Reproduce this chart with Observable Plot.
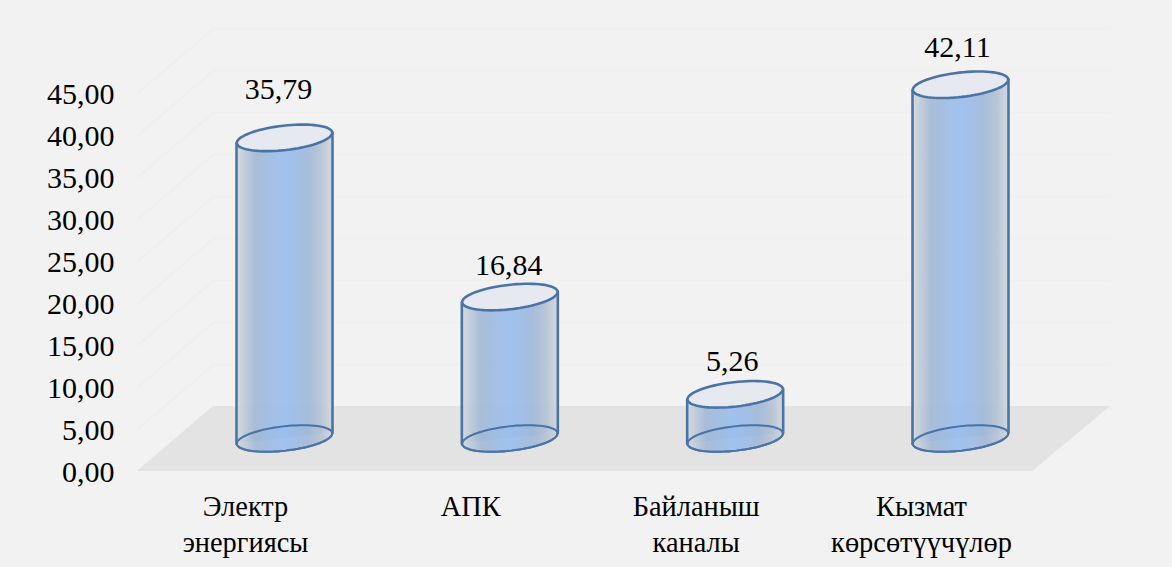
<!DOCTYPE html>
<html>
<head>
<meta charset="utf-8">
<script src="https://cdn.jsdelivr.net/npm/d3@7"></script>
<script src="https://cdn.jsdelivr.net/npm/@observablehq/plot@0.6"></script>
<style>
html,body{margin:0;padding:0;background:#f2f2f2;}
svg{display:block;}
</style>
</head>
<body>
<div id="chart"></div>
<script>
const categories = ["Электр\nэнергиясы", "АПК", "Байланыш\nканалы", "Кызмат\nкөрсөтүүчүлөр"];
const values = [35.79, 16.84, 5.26, 42.11];
const valueLabels = ["35,79", "16,84", "5,26", "42,11"];
const yTicks = [0, 5, 10, 15, 20, 25, 30, 35, 40, 45];

const indices = categories.map((_, i) => i);
const rows = indices.map(i => ({i, v: values[i], label: valueLabels[i]}));

// 3D look: everything below is expressed in data units, so it goes through the scales
const depth = 7.74, half = 0.213, tilt = 0.65, lift = -33;
const floor = [
  {y: 0, x1: -0.652, x2: 3.32},
  {y: depth, x1: -0.315, x2: 3.666}
];
const wall = yTicks.map(k => ({k}));
const sideFill = rows.flatMap(d => [
  {i: d.i, x: d.i - half, y1: -tilt, y2: d.v - tilt},
  {i: d.i, x: d.i + half, y1: tilt, y2: d.v + tilt}
]);
const sideLines = rows.flatMap(d => [-1, 1].flatMap(s => [
  {z: `${d.i}${s}`, x: d.i + s * half, y: s * tilt},
  {z: `${d.i}${s}`, x: d.i + s * half, y: d.v + s * tilt}
]));

const ellipse = {
  draw(ctx) {
    const a = 48, b = 12.2, t = -6.5 * Math.PI / 180;
    for (let k = 0; k <= 72; ++k) {
      const u = k / 72 * 2 * Math.PI;
      const ex = a * Math.cos(u), ey = b * Math.sin(u);
      const px = ex * Math.cos(t) - ey * Math.sin(t);
      const py = ex * Math.sin(t) + ey * Math.cos(t);
      k ? ctx.lineTo(px, py) : ctx.moveTo(px, py);
    }
    ctx.closePath();
  }
};

const defs = () => {
  const d = d3.create("svg:defs");
  const g = d.append("linearGradient").attr("id", "cyl").attr("x1", 0).attr("x2", 1).attr("y1", 0).attr("y2", 0);
  [[0, "#d3d9e1"], [0.08, "#c2ccd9"], [0.2, "#a2b9d7"], [0.3, "#a0bbde"], [0.47, "#9bbeed"], [0.62, "#9cbce6"], [0.75, "#a0b9d9"], [0.88, "#b4c2d4"], [1, "#d0d6de"]]
    .forEach(([o, c]) => g.append("stop").attr("offset", o).attr("stop-color", c));
  return d.node();
};

const font = "Liberation Serif";
const stroke = "#4b74a6";
const labelOffsets = [[-6, -48], [-1, -32], [-3, -33], [-3, -37]];

const chart = Plot.plot({
  width: 1172,
  height: 567,
  marginLeft: 284,
  marginRight: 212,
  marginTop: 93,
  marginBottom: 96,
  style: {background: "#f2f2f2", fontFamily: font, color: "#000", overflow: "visible"},
  x: {domain: [0, 3], axis: null},
  y: {domain: [0, 45], axis: null},
  marks: [
    defs,
    Plot.ruleY(wall, {y: d => d.k + depth, x1: -0.315, x2: 3.666, stroke: "#efefef", strokeWidth: 2}),
    Plot.link(wall, {x1: -0.652, y1: "k", x2: -0.315, y2: d => d.k + depth, stroke: "#efefef", strokeWidth: 2}),
    Plot.areaX(floor, {y: "y", x1: "x1", x2: "x2", fill: "#e3e3e3"}),
    Plot.axisY({
      ticks: yTicks, tickSize: 0, tickPadding: 0, dx: -170, dy: 1,
      tickFormat: d => d.toFixed(2).replace(".", ","),
      fontSize: 30, label: null, fill: "#000"
    }),
    Plot.axisX({
      ticks: indices, tickSize: 0, tickPadding: 19, dx: -39,
      tickFormat: i => categories[i], lineHeight: 1.27,
      fontSize: 28.4, label: null, fill: "#000"
    }),
    Plot.dot(rows, {x: "i", y: 0, dy: lift, symbol: ellipse, fill: "url(#cyl)", fillOpacity: 0.9, stroke, strokeWidth: 2}),
    Plot.areaY(sideFill, {x: "x", y1: "y1", y2: "y2", z: "i", fill: "url(#cyl)", fillOpacity: 0.92, dy: lift}),
    Plot.line(sideLines, {x: "x", y: "y", z: "z", stroke, strokeWidth: 2.6, dy: lift}),
    Plot.dot(rows, {x: "i", y: 0, dy: lift, symbol: ellipse, fill: "none", stroke, strokeWidth: 2}),
    Plot.dot(rows, {x: "i", y: "v", dy: lift, symbol: ellipse, fill: "#e6e9ef", stroke, strokeWidth: 2.6}),
    ...rows.map(d => Plot.text([d], {
      x: "i", y: "v", text: "label", fontSize: 30, fill: "#000",
      dx: labelOffsets[d.i][0], dy: lift + labelOffsets[d.i][1]
    }))
  ]
});
document.getElementById("chart").append(chart);
</script>
</body>
</html>
